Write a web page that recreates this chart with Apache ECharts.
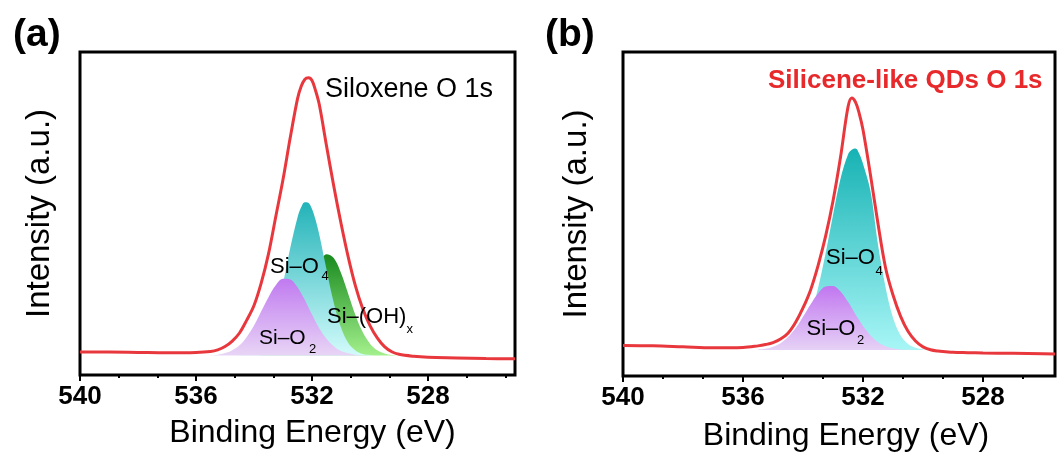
<!DOCTYPE html>
<html><head><meta charset="utf-8">
<script src="https://cdn.jsdelivr.net/npm/echarts@6/dist/echarts.min.js"></script>
<style>html,body{margin:0;padding:0;background:#fff}#c{width:1059px;height:457px}</style>
</head><body><div id="c"></div>
<script>
// ---------- Panel (a): Siloxene O 1s ----------
const energyA = [540,539,538,537,536,535.5,535.25,535,534.75,534.5,534.25,534,533.75,533.5,533.25,533,532.75,532.5,532.375,532.25,532.125,532,531.875,531.75,531.5,531.25,531,530.75,530.5,530.25,530,529.75,529.5,529.25,529,528.5,528,527,526,525];
const envelopeA = [7.1,7.1,7.0,6.9,7.0,7.3,7.8,8.8,10.5,13.0,17.0,21.5,28.5,37.5,49.0,60.5,73.5,85.5,89.3,91.5,92.0,91.2,88.0,83.8,71.0,58.5,47.0,36.5,27.5,20.5,15.3,11.5,8.8,7.2,6.4,5.8,5.5,5.3,5.1,5.0];
const sio2A = [null,null,null,null,null,6.1,6.3,6.8,7.7,9.2,11.8,15.3,19.7,24.1,27.8,29.8,29.6,27.2,25.3,23.3,21.0,18.7,16.5,14.5,11.2,8.9,7.4,6.7,6.3,6.1,6.0,null,null,null,null,null,null,null,null,null];
const sio4A = [null,null,null,null,null,6.0,6.0,6.0,6.0,6.1,6.3,7.0,8.8,12.4,18.9,28.3,39.3,48.8,51.9,53.5,53.3,51.4,48.0,43.5,32.7,22.4,14.7,9.9,7.6,6.5,6.2,6.0,null,null,null,null,null,null,null,null];
const siohA = [null,null,null,null,null,null,null,null,null,null,null,6.0,6.1,6.4,7.2,8.7,11.6,16.2,19.2,22.4,25.8,29.1,32.2,34.7,37.4,36.2,31.6,25.1,18.5,13.2,9.7,7.65,6.65,6.2,6.05,null,null,null,null,null];
const baseA = 6;

// ---------- Panel (b): Silicene-like QDs O 1s ----------
const energyB = [540,539,538,537,536,535.5,535.25,535,534.75,534.5,534.25,534,533.75,533.5,533.25,533,532.75,532.5,532.375,532.25,532.125,532,531.75,531.5,531.25,531,530.75,530.5,530.25,530,529.75,529.5,529.25,529,528.5,528,527,526,525.6];
const envelopeB = [9.4,9.3,9.0,8.7,8.8,9.3,9.7,10.3,11.4,13.2,16.5,21.0,26.5,34.0,43.0,54.0,67.5,83.0,85.8,84.5,81.0,76.0,62.0,47.0,33.5,25.0,18.5,13.8,10.8,9.0,8.1,7.7,7.5,7.3,7.2,7.1,7.0,6.9,6.8];
const sio2B = [null,null,null,null,null,8.2,8.4,9.0,10.1,12.0,14.7,18.3,22.1,25.5,27.6,27.8,26.1,22.9,21.0,19.0,17.2,15.4,12.5,10.4,9.2,8.5,8.2,8.1,8.0,null,null,null,null,null,null,null,null,null,null];
const sio4B = [null,null,null,null,null,8.0,8.1,8.2,8.5,9.2,10.7,13.8,19.1,27.1,37.7,49.7,60.9,68.4,69.8,70.2,68.6,65.5,57.0,40.5,27.5,18.0,12.6,9.9,8.7,8.2,8.0,null,null,null,null,null,null,null,null];
const baseB = 8;

// ---------- Axis ticks ----------
const majorTicks = [540,536,532,528];
const minorTicks = [538.67,537.33,534.67,533.33,530.67,529.33,526.67,525.33];

const FONT = 'Arial, "Liberation Sans", sans-serif';
function pairs(xs, ys){ const out=[]; xs.forEach((x,i)=>{ if(ys[i]!=null) out.push([x, ys[i]]); }); return out; }
function grad(top, bottom){ return new echarts.graphic.LinearGradient(0,0,0,1,[{offset:0,color:top},{offset:1,color:bottom}]); }

function xAxes(grid, min, nameGap, padLeft){
  return [
    {gridIndex:grid, type:'value', min:min, max:540, inverse:true, position:'bottom',
     axisLine:{show:false}, splitLine:{show:false},
     axisTick:{show:true, customValues:majorTicks, length:6, lineStyle:{width:2,color:'#000'}},
     axisLabel:{customValues:majorTicks, fontSize:26, fontWeight:'bold', color:'#000', margin:9, fontFamily:FONT},
     name:'Binding Energy (eV)', nameLocation:'middle', nameGap:nameGap,
     nameTextStyle:{fontSize:32, color:'#000', fontFamily:FONT, padding:[0,0,0,padLeft]}},
    {gridIndex:grid, type:'value', min:min, max:540, inverse:true, position:'bottom',
     axisLine:{show:false}, splitLine:{show:false}, axisLabel:{show:false},
     axisTick:{show:true, customValues:minorTicks, length:3, lineStyle:{width:2,color:'#000'}}}
  ];
}
function yAxis(grid, nameGap){
  return {gridIndex:grid, type:'value', min:0, max:100,
    axisLine:{show:false}, axisTick:{show:false}, axisLabel:{show:false}, splitLine:{show:false},
    name:'Intensity (a.u.)', nameLocation:'middle', nameGap:nameGap, nameRotate:90,
    nameTextStyle:{fontSize:33, color:'#000', fontFamily:FONT}};
}
function area(xi, yi, xs, ys, origin, top, bottom){
  return {type:'line', xAxisIndex:xi, yAxisIndex:yi, data:pairs(xs,ys), smooth:0.35, symbol:'none',
    lineStyle:{width:0, opacity:0}, areaStyle:{origin:origin, opacity:1, color:grad(top,bottom)}, silent:true, z:2};
}
function env(xi, yi, xs, ys){
  return {type:'line', xAxisIndex:xi, yAxisIndex:yi, data:pairs(xs,ys), smooth:0.35, symbol:'none',
    lineStyle:{width:3, color:'#e8383d'}, silent:true, z:5};
}
function txt(t, x, y, size, opts){
  opts = opts || {};
  return {type:'text', x:x, y:y, z:100, style:{text:t, fill:opts.color||'#000',
    font:(opts.weight||'normal')+' '+size+'px '+FONT, align:'left', verticalAlign:'middle'}};
}

const chart = echarts.init(document.getElementById('c'), null, {renderer:'canvas'});
chart.setOption({
  animation:false,
  backgroundColor:'#fff',
  grid:[
    {left:80, top:52, width:435, height:323, show:true, borderColor:'#000', borderWidth:3},
    {left:623, top:52, width:432, height:325, show:true, borderColor:'#000', borderWidth:3}
  ],
  xAxis:[].concat(xAxes(0, 525, 42, 30), xAxes(1, 525.6, 44, 14)),
  yAxis:[yAxis(0, 24), yAxis(1, 30)],
  series:[
    area(0,0, energyA, siohA, baseA, '#188a1e', '#a3f08c'),
    area(0,0, energyA, sio4A, baseA, '#22b3b8', '#d3fbfb'),
    area(0,0, energyA, sio2A, baseA, '#c07af0', '#e8d5f6'),
    env(0,0, energyA, envelopeA),
    area(2,1, energyB, sio4B, baseB, '#17b2b4', '#a8f6f6'),
    area(2,1, energyB, sio2B, baseB, '#c176f0', '#e6d2f6'),
    env(2,1, energyB, envelopeB)
  ],
  graphic:[
    txt('(a)', 13, 35, 39, {weight:'bold'}),
    txt('(b)', 545, 35, 39, {weight:'bold'}),
    txt('Siloxene O 1s', 325, 89.5, 27),
    txt('Si–O', 270, 266.7, 22), txt('4', 321.5, 276.7, 13),
    txt('Si–(OH)', 327, 317, 22), txt('x', 406.5, 329.5, 13),
    txt('Si–O', 259, 338.7, 21), txt('2', 309, 349, 13),
    txt('Silicene-like QDs O 1s', 768, 81, 26, {color:'#e8292b', weight:'bold'}),
    txt('Si–O', 826, 258.3, 22), txt('4', 875.5, 271, 13),
    txt('Si–O', 806.5, 329.2, 22), txt('2', 857, 340.5, 13)
  ]
});
</script></body></html>
